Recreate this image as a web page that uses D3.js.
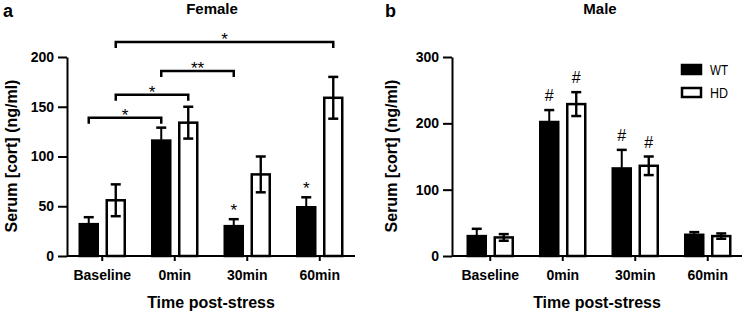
<!DOCTYPE html>
<html>
<head>
<meta charset="utf-8">
<script src="https://cdn.jsdelivr.net/npm/d3@7"></script>
<style>
  body { margin: 0; background: #fff; }
  svg { display: block; font-family: "Liberation Sans", Arial, sans-serif; }
  .axis path, .axis line { stroke: #000; stroke-width: 2px; }
  .axis text { font-size: 14px; font-weight: bold; fill: #000; }
</style>
</head>
<body>
<div id="chart-area"></div>
<script>
// categories and groups
let categories = ["Baseline", "0min", "30min", "60min"];
let groups = ["WT", "HD"];

// Female (panel a) means and SEM
let femaleWT = [32, 116, 30, 49];
let femaleWTsem = [7, 13, 7, 10];
let femaleHD = [56, 134, 82, 159];
let femaleHDsem = [16, 16, 18, 21];

// Male (panel b) means and SEM
let maleWT = [30, 202, 132, 32];
let maleWTsem = [11, 18, 28, 4];
let maleHD = [28, 229, 136, 30];
let maleHDsem = [5, 18, 14, 4];

// tick labels
let femaleTicks = [0, 50, 100, 150, 200];
let maleTicks = [0, 100, 200, 300];

// significance brackets (level in ng/ml)
let femaleBrackets = [
	{from: ["Baseline", "WT"], to: ["0min", "WT"], level: 139, label: "*"},
	{from: ["Baseline", "HD"], to: ["0min", "HD"], level: 162, label: "*"},
	{from: ["0min", "WT"], to: ["30min", "WT"], level: 186, label: "**"},
	{from: ["Baseline", "HD"], to: ["60min", "HD"], level: 215, label: "*"}
];
let femaleMarks = [
	{cat: "30min", grp: "WT", label: "*"},
	{cat: "60min", grp: "WT", label: "*"}
];
let maleMarks = [
	{cat: "0min", grp: "WT", label: "#"},
	{cat: "0min", grp: "HD", label: "#"},
	{cat: "30min", grp: "WT", label: "#"},
	{cat: "30min", grp: "HD", label: "#"}
];

let svg = d3.select("#chart-area").append("svg")
	.attr("width", 746)
	.attr("height", 313);

function toRows(wt, wtSem, hd, hdSem) {
	let rows = [];
	categories.forEach((c, i) => {
		rows.push({cat: c, grp: "WT", value: wt[i], sem: wtSem[i]});
		rows.push({cat: c, grp: "HD", value: hd[i], sem: hdSem[i]});
	});
	return rows;
}

function drawPanel(p) {
	let g = svg.append("g");

	let x = d3.scaleBand().domain(categories).range(p.xRange);
	let xSub = d3.scalePoint().domain(groups).range([-13.5, 13.5]);
	let y = d3.scaleLinear().domain([0, p.yMax]).range([256, 57]);
	let barW = 18;

	let cx = (cat, grp) => x(cat) + x.bandwidth() / 2 + xSub(grp);

	// error bars (drawn first so black bars hide lower half)
	let rows = p.rows;
	let eb = g.selectAll(".err").data(rows).enter().append("g").attr("class", "err");
	eb.append("line")
		.attr("x1", d => cx(d.cat, d.grp)).attr("x2", d => cx(d.cat, d.grp))
		.attr("y1", d => y(d.value - d.sem)).attr("y2", d => y(d.value + d.sem))
		.attr("stroke", "#000").attr("stroke-width", 2);
	eb.append("line")
		.attr("x1", d => cx(d.cat, d.grp) - 5).attr("x2", d => cx(d.cat, d.grp) + 5)
		.attr("y1", d => y(d.value + d.sem)).attr("y2", d => y(d.value + d.sem))
		.attr("stroke", "#000").attr("stroke-width", 2.5);
	eb.append("line")
		.attr("x1", d => cx(d.cat, d.grp) - 5).attr("x2", d => cx(d.cat, d.grp) + 5)
		.attr("y1", d => y(d.value - d.sem)).attr("y2", d => y(d.value - d.sem))
		.attr("stroke", "#000").attr("stroke-width", 2.5);

	// bars
	g.selectAll(".bar").data(rows).enter().append("rect")
		.attr("class", "bar")
		.attr("x", d => cx(d.cat, d.grp) - barW / 2)
		.attr("width", barW)
		.attr("y", d => y(d.value))
		.attr("height", d => y(0) - y(d.value))
		.attr("fill", d => d.grp === "WT" ? "#000" : "none")
		.attr("stroke", "#000")
		.attr("stroke-width", 2.5);

	// HD error bars on top of the white bars
	let hdRows = rows.filter(d => d.grp === "HD");
	g.selectAll(".errhd").data(hdRows).enter().append("line")
		.attr("x1", d => cx(d.cat, d.grp)).attr("x2", d => cx(d.cat, d.grp))
		.attr("y1", d => y(d.value - d.sem)).attr("y2", d => y(d.value + d.sem))
		.attr("stroke", "#000").attr("stroke-width", 2);

	// axes
	let xAxis = d3.axisBottom(x).tickSize(5).tickSizeOuter(0).tickPadding(9);
	let xg = g.append("g").attr("class", "axis")
		.attr("transform", "translate(0," + y(0) + ")")
		.call(xAxis);
	xg.select(".domain").attr("d", "M" + p.axisX + ",0H" + p.xEnd);

	let yAxis = d3.axisLeft(y).tickValues(p.ticks).tickSize(9).tickSizeOuter(0).tickPadding(4);
	g.append("g").attr("class", "axis")
		.attr("transform", "translate(" + p.axisX + ",0)")
		.call(yAxis);

	// axis titles
	g.append("text")
		.attr("x", (p.axisX + p.xEnd) / 2)
		.attr("y", 308)
		.attr("text-anchor", "middle")
		.style("font-size", "16px").style("font-weight", "bold")
		.text("Time post-stress");

	g.append("text")
		.attr("transform", "translate(" + p.yLabelX + ",156) rotate(-90)")
		.attr("text-anchor", "middle")
		.style("font-size", "16px").style("font-weight", "bold")
		.text("Serum [cort] (ng/ml)");

	// panel title and letter
	g.append("text")
		.attr("x", p.titleX).attr("y", 14)
		.attr("text-anchor", "middle")
		.style("font-size", "15px").style("font-weight", "bold")
		.text(p.title);
	g.append("text")
		.attr("x", p.letterX).attr("y", 17)
		.style("font-size", "18px").style("font-weight", "bold")
		.text(p.letter);

	// brackets
	let br = g.selectAll(".bracket").data(p.brackets).enter().append("g");
	br.append("path")
		.attr("d", d => {
			let x1 = cx(d.from[0], d.from[1]), x2 = cx(d.to[0], d.to[1]), yy = y(d.level);
			return "M" + x1 + "," + (yy + 6) + "V" + yy + "H" + x2 + "V" + (yy + 6);
		})
		.attr("fill", "none").attr("stroke", "#000").attr("stroke-width", 2.5);
	br.append("text")
		.attr("x", d => (cx(d.from[0], d.from[1]) + cx(d.to[0], d.to[1])) / 2)
		.attr("y", d => y(d.level) + 3)
		.attr("text-anchor", "middle")
		.style("font-size", "17px")
		.text(d => d.label);

	// markers above bars
	g.selectAll(".mark").data(p.marks).enter().append("text")
		.attr("x", d => cx(d.cat, d.grp))
		.attr("y", d => {
			let r = rows.find(r => r.cat === d.cat && r.grp === d.grp);
			return y(r.value + r.sem) - (d.label === "#" ? 9 : 3);
		})
		.attr("text-anchor", "middle")
		.style("font-size", d => d.label === "#" ? "16px" : "17px")
		.text(d => d.label);

	return g;
}

drawPanel({
	rows: toRows(femaleWT, femaleWTsem, femaleHD, femaleHDsem),
	xRange: [66, 356], axisX: 67, xEnd: 355, yMax: 200, ticks: femaleTicks,
	yLabelX: 17, title: "Female", titleX: 212, letter: "a", letterX: 3,
	brackets: femaleBrackets, marks: femaleMarks
});

drawPanel({
	rows: toRows(maleWT, maleWTsem, maleHD, maleHDsem),
	xRange: [454, 744], axisX: 452, xEnd: 742, yMax: 300, ticks: maleTicks,
	yLabelX: 397, title: "Male", titleX: 600, letter: "b", letterX: 385,
	brackets: [], marks: maleMarks
});

// legend
let legend = svg.append("g").selectAll("g").data(groups).enter().append("g")
	.attr("transform", (d, i) => "translate(682," + (65 + i * 23) + ")");
legend.append("rect")
	.attr("width", 19).attr("height", 9)
	.attr("fill", d => d === "WT" ? "#000" : "#fff")
	.attr("stroke", "#000").attr("stroke-width", 2.5);
legend.append("text")
	.attr("x", 28).attr("y", 10)
	.attr("textLength", 18).attr("lengthAdjust", "spacingAndGlyphs")
	.style("font-size", "14px")
	.text(d => d);
</script>
</body>
</html>
